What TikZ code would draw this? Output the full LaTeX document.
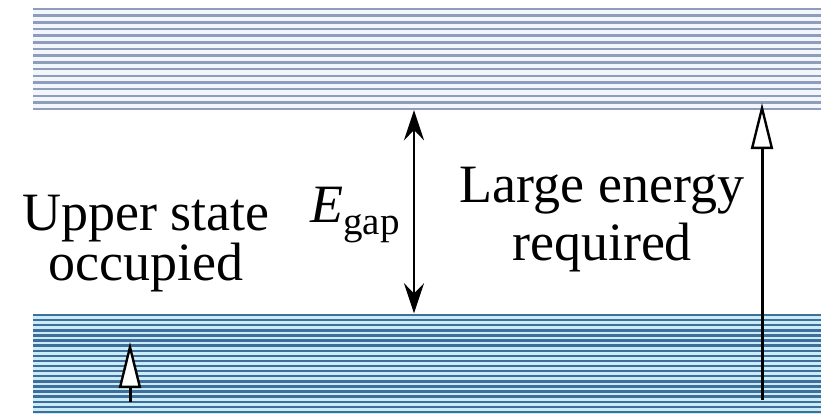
\documentclass[tikz,border=0pt]{standalone}
\usepackage{fontspec}
\setmainfont{Liberation Serif}
\newfontfamily\bandfont{Liberation Serif}
\usetikzlibrary{arrows.meta,positioning,calc}
\definecolor{bandSlate}{HTML}{8E9DBB}
\definecolor{bandPale}{HTML}{F2F6FB}
\definecolor{bandDeep}{HTML}{3F6E9B}
\definecolor{bandCyan}{HTML}{C9ECF7}

\begin{document}
\begin{tikzpicture}[x=1pt,y=-1pt,
   lbl/.style={font=\bandfont\fontsize{54}{50}\selectfont,align=center,inner sep=0pt},
   band/.style={draw=none,inner sep=0pt,minimum width=788pt},
   gaparrow/.style={line width=2.5pt,{Stealth[length=30pt,width=20pt,inset=10pt]}-{Stealth[length=30pt,width=20pt,inset=10pt]}},
   jump/.style={line width=3pt,-{Triangle[length=46pt,width=22pt,fill=white,line width=2.4pt]}}]
  \useasboundingbox (0,0) rectangle (821,416);
  % energy bands
  \node[band,fill=bandPale,minimum height=102pt] (cb) at (427,59) {};
  \node[band,fill=bandCyan,minimum height=100pt] (vb) at (427,363.5) {};
  \foreach \i in {0,...,15}
    \draw[bandSlate,line width=2.4pt] (33,9+\i*6.67) -- (821,9+\i*6.67);
  \foreach \i in {0,...,19}
    \draw[bandDeep,line width=2.4pt] (33,315+\i*5.1) -- (821,315+\i*5.1);
  % labels
  \node[lbl,anchor=base] (occ) at (146,280) {Upper state\\occupied};
  \node[lbl,anchor=base,font=\bandfont\fontsize{54}{58}\selectfont] (big) at (602,260) {Large energy\\required};
  \node[inner sep=0pt,anchor=base,font=\bandfont] (eg) at (355,222)
    {\fontsize{54}{54}\selectfont\textit{E}\raisebox{-12pt}{\fontsize{39}{39}\selectfont gap}};
  % arrows
  \coordinate (gx) at (414,0);
  \coordinate (btip) at (762,103);
  \coordinate (sbase) at (130,402);
  \coordinate (bbase) at (762,400);
  \draw[gaparrow] (cb.south -| gx) -- (vb.north -| gx);
  \draw[jump] (bbase) -- (btip);
  \draw[jump] (sbase) -- ++(0,-60);
\end{tikzpicture}
\end{document}
